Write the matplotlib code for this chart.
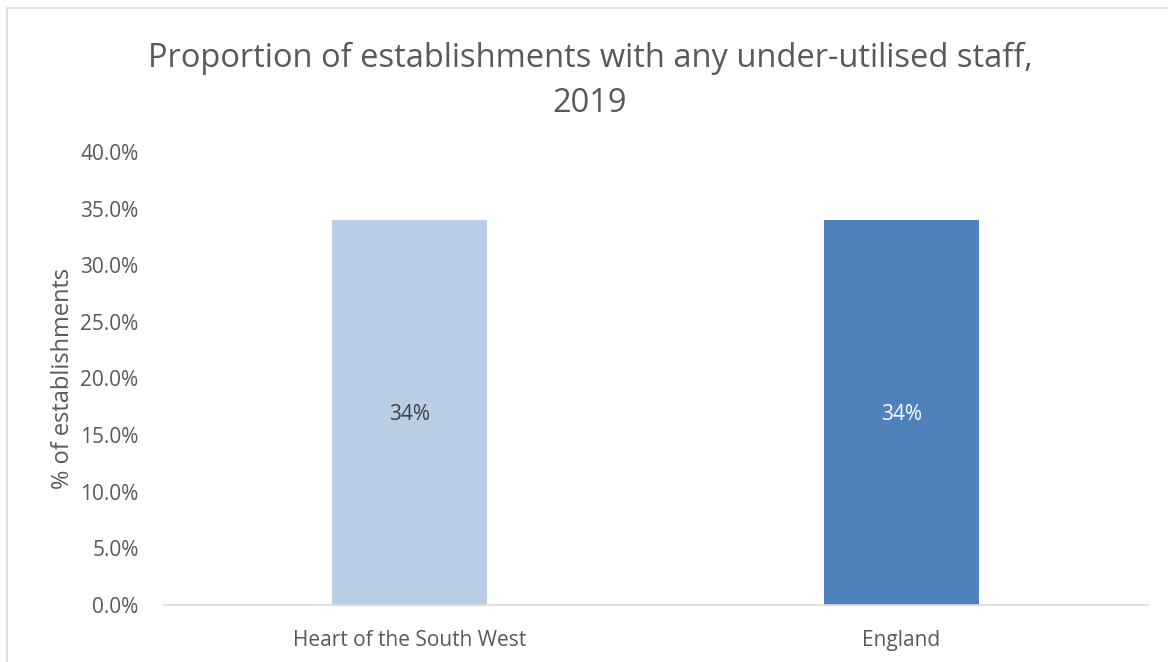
import matplotlib
matplotlib.use("Agg")
import matplotlib.pyplot as plt
from matplotlib.patches import Rectangle
from matplotlib.ticker import FuncFormatter

categories = ["Heart of the South West", "England"]
values = [0.34, 0.34]
label_texts = ["34%", "34%"]
colors = ["#B9CDE5", "#4F81BD"]
label_colors = ["#404040", "#FFFFFF"]
yticks = [0.0, 0.05, 0.10, 0.15, 0.20, 0.25, 0.30, 0.35, 0.40]

plt.rcParams['font.family'] = ['Open Sans', 'DejaVu Sans']
txt = "#595959"

fig = plt.figure(figsize=(11.68, 6.62), dpi=100)
fig.patches.append(Rectangle((7/1168, -0.1), 1.2, 1 - 8/662 + 0.1, transform=fig.transFigure,
                             fill=False, edgecolor="#D9D9D9", linewidth=1.2))
ax = fig.add_axes([163.5/1168, 1 - 605/662, 984/1168, (605 - 152)/662])

x = list(range(len(categories)))
bars = ax.bar(x, values, width=0.315, color=colors)
for b, t, c in zip(bars, label_texts, label_colors):
    ax.text(b.get_x() + b.get_width()/2, b.get_height()/2, t, ha="center", va="center_baseline",
            fontsize=15, color=c)

ax.set_xlim(-0.5, 1.5)
ax.set_ylim(0, 0.40)
ax.set_yticks(yticks)
ax.yaxis.set_major_formatter(FuncFormatter(lambda v, p: f"{v*100:.1f}%"))
ax.set_xticks(x)
ax.set_xticklabels(categories)
ax.tick_params(axis="both", length=0, labelsize=15, colors=txt)
ax.tick_params(axis="y", pad=18)
ax.tick_params(axis="x", pad=18)
for s in ["top", "right", "left"]:
    ax.spines[s].set_visible(False)
ax.spines["bottom"].set_color("#D9D9D9")
ax.spines["bottom"].set_linewidth(1.2)

ax.set_ylabel("% of establishments", fontsize=17, color=txt, labelpad=4)

fig.text(590/1168, 1 - 81/662, "Proportion of establishments with any under-utilised staff,\n2019",
         ha="center", va="center", fontsize=23.5, color=txt, linespacing=1.45)

fig.savefig("out.png", dpi=100)
